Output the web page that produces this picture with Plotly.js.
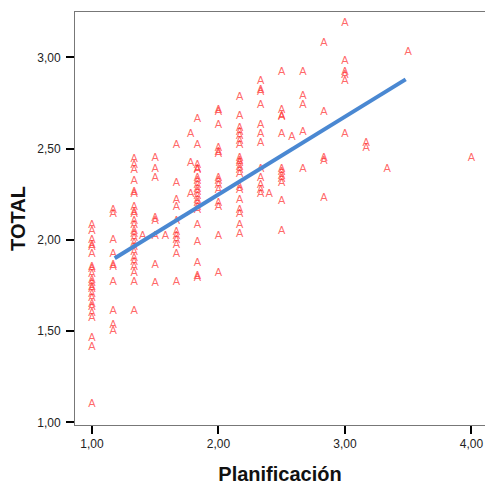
<!DOCTYPE html>
<html>
<head>
<meta charset="utf-8">
<script src="https://cdn.plot.ly/plotly-3.0.1.min.js"></script>
<style>html,body{margin:0;padding:0;background:#fff;}#chart{width:485px;height:486px;}</style>
</head>
<body>
<div id="chart"></div>
<script>
// Planificación (x) values, grouped by column
const planificacion = [
  // x = 1.00
  1,1,1,1,1,1,1,1,1,1,1,1,1,1,1,1,1,1,1,1,1,1,
  // x = 1.17
  1.167,1.167,1.167,1.167,1.167,1.167,1.167,1.167,1.167,1.167,
  // x = 1.33
  1.333,1.333,1.333,1.333,1.333,1.333,1.333,1.333,1.333,1.333,1.333,1.333,1.333,1.333,1.333,1.333,1.333,1.333,1.333,1.333,1.333,1.333,1.333,
  // x ~ 1.42 / 1.5 / 1.58
  1.40,
  1.5,1.5,1.5,1.5,1.5,1.5,1.5,1.5,
  1.58,
  // x = 1.67
  1.667,1.667,1.667,1.667,1.667,1.667,1.667,1.667,1.667,1.667,1.667,
  // x ~ 1.78
  1.78,1.78,1.78,
  // x = 1.83
  1.833,1.833,1.833,1.833,1.833,1.833,1.833,1.833,1.833,1.833,1.833,1.833,1.833,1.833,1.833,1.833,1.833,1.833,1.833,1.833,
  // x = 2.00
  2,2,2,2,2,2,2,2,2,2,2,2,2,2,
  // x = 2.17
  2.167,2.167,2.167,2.167,2.167,2.167,2.167,2.167,2.167,2.167,2.167,2.167,2.167,2.167,2.167,2.167,2.167,2.167,2.167,2.167,
  // x = 2.33
  2.333,2.333,2.333,2.333,2.333,2.333,2.333,2.333,2.333,2.333,2.333,2.333,
  2.40,
  // x = 2.50
  2.5,2.5,2.5,2.5,2.5,2.5,2.5,2.5,2.5,2.5,2.5,2.5,
  2.58,
  // x = 2.67
  2.667,2.667,2.667,2.667,2.667,
  // x = 2.83
  2.833,2.833,2.833,2.833,2.833,
  // x = 3.00
  3,3,3,3,3,3,
  // x = 3.17 .. 4.00
  3.167,3.167,
  3.333,
  3.5,
  4
];
// TOTAL (y) values, same order
const total = [
  2.08,2.05,2.00,1.97,1.96,1.92,1.85,1.84,1.81,1.78,1.76,1.74,1.73,1.70,1.68,1.65,1.63,1.60,1.57,1.46,1.41,1.10,
  2.16,2.14,2.00,1.92,1.86,1.85,1.77,1.61,1.53,1.50,
  2.44,2.41,2.38,2.32,2.26,2.25,2.18,2.15,2.14,2.10,2.08,2.05,2.03,2.01,1.98,1.96,1.93,1.90,1.88,1.85,1.82,1.77,1.61,
  2.02,
  2.45,2.39,2.34,2.12,2.10,2.02,1.86,1.76,
  2.02,
  2.52,2.31,2.22,2.18,2.10,2.04,2.02,2.00,1.97,1.92,1.77,
  2.58,2.42,2.25,
  2.66,2.52,2.41,2.39,2.38,2.34,2.32,2.30,2.28,2.26,2.24,2.22,2.20,2.18,2.16,2.08,1.99,1.87,1.80,1.79,
  2.71,2.70,2.63,2.50,2.48,2.47,2.34,2.32,2.30,2.27,2.20,2.18,2.02,1.82,
  2.78,2.68,2.61,2.59,2.57,2.54,2.52,2.45,2.43,2.42,2.40,2.38,2.36,2.29,2.27,2.22,2.16,2.14,2.08,2.03,
  2.87,2.82,2.81,2.74,2.63,2.58,2.53,2.39,2.34,2.30,2.27,2.25,
  2.25,
  2.92,2.71,2.68,2.67,2.58,2.39,2.37,2.35,2.33,2.31,2.21,2.05,
  2.56,
  2.92,2.79,2.74,2.59,2.39,
  3.08,2.70,2.45,2.43,2.23,
  3.19,2.98,2.92,2.90,2.87,2.58,
  2.53,2.50,
  2.39,
  3.03,
  2.45
];
// Linear fit line endpoints
const fitX = [1.18, 3.48];
const fitY = [1.90, 2.88];

const yTicks = [1.0, 1.5, 2.0, 2.5, 3.0];
const xTicks = [1, 2, 3, 4];

const traces = [
  {
    x: planificacion, y: total,
    mode: 'text', type: 'scatter',
    text: planificacion.map(() => 'A'),
    textposition: 'middle center',
    textfont: {family: 'Liberation Sans, Arial, sans-serif', size: 11, color: 'rgba(255,45,45,0.72)'},
    hoverinfo: 'x+y', showlegend: false
  },
  {
    x: fitX, y: fitY,
    mode: 'lines', type: 'scatter',
    line: {color: '#4a88d2', width: 4},
    showlegend: false
  }
];

const layout = {
  width: 485, height: 486,
  margin: {l: 75, r: 0, t: 12, b: 61},
  paper_bgcolor: '#fff', plot_bgcolor: '#fff',
  separators: ',.',
  showlegend: false,
  font: {family: 'Liberation Sans, Arial, sans-serif', color: '#222'},
  xaxis: {
    range: [0.866, 4.107],
    tickvals: xTicks, tickformat: '.2f',
    ticks: 'outside', ticklen: 8, tickwidth: 2, tickcolor: '#000',
    showline: true, linecolor: '#777', linewidth: 1, mirror: true,
    showgrid: false, zeroline: false,
    tickfont: {size: 12, color: '#222'},
    title: {text: 'Planificación', font: {size: 20, color: '#111', weight: 'bold'}, standoff: 16}
  },
  yaxis: {
    range: [0.986, 3.249],
    tickvals: yTicks, tickformat: '.2f',
    ticks: 'outside', ticklen: 8, tickwidth: 2, tickcolor: '#000',
    ticklabelstandoff: 3,
    showline: true, linecolor: '#777', linewidth: 1,
    showgrid: false, zeroline: false,
    tickfont: {size: 12, color: '#222'},
    title: {text: 'TOTAL', font: {size: 20, color: '#111', weight: 'bold'}, standoff: 6}
  }
};

Plotly.newPlot('chart', traces, layout, {displayModeBar: false, staticPlot: true});
</script>
</body>
</html>
